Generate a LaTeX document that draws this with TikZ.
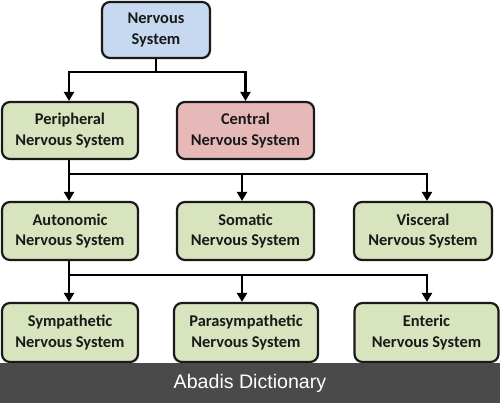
\documentclass[tikz,border=0pt]{standalone}
\usepackage{fontspec}
\setmainfont{Carlito}
\newfontfamily\bannerfont{Liberation Sans}
\usetikzlibrary{arrows.meta}
\definecolor{boxblue}{HTML}{C6D9F1}
\definecolor{boxgreen}{HTML}{D7E4BD}
\definecolor{boxred}{HTML}{E6B9B8}
\definecolor{edgecol}{HTML}{1A1A1A}
\definecolor{bannergray}{HTML}{4A4A4A}
\begin{document}
\begin{tikzpicture}[x=1pt,y=-1pt,
  box/.style={draw=edgecol, line width=2.2pt, rounded corners=8pt, inner sep=0pt,
    align=center, font=\fontsize{16.4}{20.5}\selectfont\bfseries, text=black!90},
  link/.style={line width=2.8pt, draw=black},
  arr/.style={link, -{Triangle[width=10pt,length=9pt]}}]
\useasboundingbox (0,0) rectangle (500,403);
\fill[white] (0,0) rectangle (500,403);
% row 1
\node[box, fill=boxblue, minimum width=108pt, minimum height=56pt] (ns) at (156,30) {Nervous\\System};
% row 2
\node[box, fill=boxgreen, minimum width=136pt, minimum height=57pt] (pns) at (70,130.5) {Peripheral\\Nervous System};
\node[box, fill=boxred, minimum width=137pt, minimum height=57pt] (cns) at (245.5,130.5) {Central\\Nervous System};
% row 3
\node[box, fill=boxgreen, minimum width=136pt, minimum height=58pt] (ans) at (70,231) {Autonomic\\Nervous System};
\node[box, fill=boxgreen, minimum width=137pt, minimum height=58pt] (sns) at (245.5,231) {Somatic\\Nervous System};
\node[box, fill=boxgreen, minimum width=138pt, minimum height=58pt] (vns) at (423,231) {Visceral\\Nervous System};
% row 4
\node[box, fill=boxgreen, minimum width=136pt, minimum height=59pt] (sym) at (70,332.5) {Sympathetic\\Nervous System};
\node[box, fill=boxgreen, minimum width=144pt, minimum height=59pt] (para) at (246,332.5) {Parasympathetic\\Nervous System};
\node[box, fill=boxgreen, minimum width=144pt, minimum height=59pt] (ent) at (426.5,332.5) {Enteric\\Nervous System};
% connectors
\coordinate (j1) at (156,72);
\draw[link] (ns.south) -- (j1);
\draw[arr] (j1) -| ([xshift=-1pt]pns.north);
\draw[arr] (j1) -| (cns.north);
\coordinate (j2) at (69,174);
\draw[link] ([xshift=-1pt]pns.south) -- (j2);
\draw[arr] (j2) -- ([xshift=-1pt]ans.north);
\draw[arr] (j2) -| ([xshift=-3.5pt]sns.north);
\draw[arr] (j2) -| ([xshift=4pt]vns.north);
\coordinate (j3) at (69,275);
\draw[link] ([xshift=-1pt]ans.south) -- (j3);
\draw[arr] (j3) -- ([xshift=-1pt]sym.north);
\draw[arr] (j3) -| ([xshift=-4pt]para.north);
\draw[arr] (j3) -| ([xshift=0.5pt]ent.north);
% banner
\fill[bannergray] (0,363) rectangle (500,403);
\node[text=white, font=\bannerfont\fontsize{19.6}{22}\selectfont, inner sep=0pt] (banner) at (250,383) {Abadis Dictionary};
\end{tikzpicture}
\end{document}
